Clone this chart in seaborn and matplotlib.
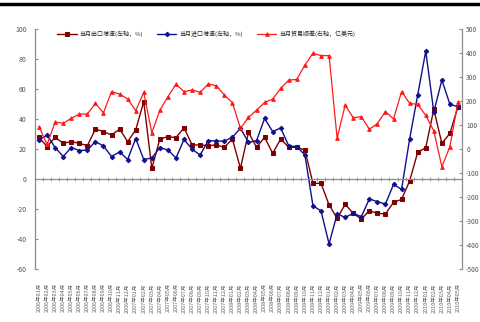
import matplotlib
matplotlib.use("Agg")
import matplotlib.pyplot as plt
import seaborn as sns
import numpy as np
import pandas as pd

# ---- data (Jan 2006 - May 2010) ----
months = [f"{y}年{m:02d}月" for y in range(2006, 2011) for m in range(1, 13)][:53]

exports = [27.8, 21.6, 27.8, 23.8, 24.9, 23.8, 22.2, 33.3, 31.6, 29.3, 33.3, 24.9,
           32.7, 51.6, 7.1, 26.7, 28.2, 27.6, 34.2, 22.7, 22.7, 22.2, 22.7, 21.1,
           26.7, 7.1, 31.1, 21.1, 27.8, 17.1, 26.7, 21.1, 21.1, 19.3, -2.9, -2.9,
           -17.3, -26.2, -16.9, -22.9, -26.7, -21.1, -22.9, -23.3, -15.6, -13.6, -1.3, 17.8,
           20.9, 46.4, 23.8, 30.4, 48.2]

imports = [26.0, 29.3, 21.0, 15.0, 21.0, 19.0, 19.3, 25.0, 22.0, 15.0, 18.0, 13.0,
           27.0, 13.0, 14.0, 21.0, 19.3, 14.0, 26.4, 19.8, 16.0, 25.6, 25.3, 25.3,
           27.8, 33.8, 24.4, 25.6, 40.4, 31.6, 34.0, 22.0, 21.6, 16.0, -17.8, -21.3,
           -43.3, -23.3, -25.6, -22.9, -25.1, -13.3, -15.1, -16.7, -3.6, -6.9, 26.7, 56.0,
           85.3, 44.7, 66.0, 49.8, 48.2]

balance = [93, 19, 112, 107, 128, 145, 146, 190, 151, 239, 229, 208,
           160, 236, 68, 162, 218, 270, 239, 246, 236, 271, 264, 225,
           193, 86, 132, 162, 194, 208, 253, 287, 290, 350, 399, 389,
           389, 45, 183, 130, 135, 82, 106, 156, 125, 239, 190, 186,
           140, 76, -74, 10, 196]

series_names = ["当月出口增速(左轴，%)", "当月进口增速(左轴，%)", "当月贸易顺差(右轴，亿美元)"]
left_ticks = list(range(-60, 101, 20))
right_ticks = list(range(-500, 501, 100))

df = pd.DataFrame({"idx": np.arange(len(months)), "exports": exports,
                   "imports": imports, "balance": balance})

sns.set_style("white")
plt.rcParams["font.family"] = ["Noto Sans CJK SC", "DejaVu Sans"]
plt.rcParams["axes.unicode_minus"] = False

fig = plt.figure(figsize=(4.8, 3.22), dpi=100)
ax = fig.add_axes([35/480, 53/322, 427/480, 240/322])
ax2 = ax.twinx()

grey = "#8c8c8c"
sns.lineplot(data=df, x="idx", y="exports", ax=ax, color="#800000", marker="s",
             markersize=3.5, markeredgecolor="#800000", linewidth=1.0, label=series_names[0],
             legend=False)
sns.lineplot(data=df, x="idx", y="imports", ax=ax, color="#10108a", marker="D",
             markersize=2.3, markeredgecolor="#10108a", linewidth=1.0, label=series_names[1],
             legend=False)
sns.lineplot(data=df, x="idx", y="balance", ax=ax2, color="#ff1a1a", marker="^",
             markersize=2.6, markeredgecolor="#ff1a1a", linewidth=0.9, label=series_names[2],
             legend=False)

ax.set_ylim(-60, 100)
ax2.set_ylim(-500, 500)
ax.set_yticks(left_ticks)
ax2.set_yticks(right_ticks)
ax.set_xlim(-0.35, len(months) - 0.55)

for a in (ax, ax2):
    a.set_xlabel("")
    a.set_ylabel("")
    for s in a.spines.values():
        s.set_color(grey)
        s.set_linewidth(0.9)
    a.spines["top"].set_visible(False)

ax.spines["right"].set_visible(False)
ax2.spines["left"].set_visible(False)
ax2.spines["bottom"].set_visible(False)
ax.spines["bottom"].set_position(("data", 0))

ax.tick_params(axis="y", direction="in", length=2.5, color=grey, labelsize=5,
               labelcolor="#555555", pad=6, left=True)
ax2.tick_params(axis="y", direction="in", length=2.5, color=grey, labelsize=4.8,
                labelcolor="#555555", pad=3, right=True)

ax.set_xticks(df["idx"])
ax.set_xticklabels(months, rotation=90, va="top", ha="center")
ax.set_xticks(np.arange(len(months) + 1) - 0.5, minor=True)
ax.tick_params(axis="x", which="major", length=0, pad=75, labelsize=4,
               labelcolor="#666666", bottom=True)
ax.tick_params(axis="x", which="minor", direction="inout", length=2.5, color=grey,
               width=0.6, bottom=True)

h1, l1 = ax.get_legend_handles_labels()
h2, l2 = ax2.get_legend_handles_labels()
ax2.legend(h1 + h2, l1 + l2, loc="upper left", bbox_to_anchor=(0.04, 1.015), ncol=3,
           frameon=False, fontsize=4.3, handlelength=3.2, columnspacing=2.5,
           handletextpad=0.4)

fig.add_artist(plt.Line2D([0, 1], [0.988, 0.988], transform=fig.transFigure,
                          color="black", linewidth=2.5))

fig.savefig("out.png", dpi=100)
